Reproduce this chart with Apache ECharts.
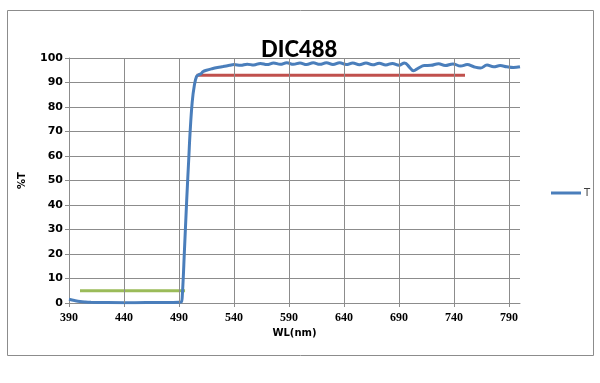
<!DOCTYPE html>
<html>
<head>
<meta charset="utf-8">
<script src="https://cdn.jsdelivr.net/npm/echarts@6/dist/echarts.min.js"></script>
<style>html,body{margin:0;padding:0;background:#fff;}#c{width:600px;height:383px;}</style>
</head>
<body>
<div id="c"></div>
<script>
var titleText = 'DIC488';
var seriesName = 'T';
var xTicks = [390, 440, 490, 540, 590, 640, 690, 740, 790];
var yTicks = [0, 10, 20, 30, 40, 50, 60, 70, 80, 90, 100];
var wl = [390, 395, 400, 405, 410, 420, 440, 460, 480, 490, 492, 493, 495, 497, 499, 500, 502, 504, 506, 508, 510, 512, 515, 520, 525, 530, 536,
  540, 546, 552, 558, 564, 570, 576, 582, 588, 594, 600, 606, 612, 618, 624, 630, 636, 642, 648, 654, 660, 666, 672, 678, 684, 690, 695, 700, 703,
  708, 713, 719, 726, 732, 739, 746, 752, 758, 764, 770, 776, 782, 788, 794, 800];
var tVal = [1.5, 1.0, 0.6, 0.4, 0.3, 0.2, 0.1, 0.2, 0.2, 0.3, 0.4, 3, 22, 42, 60, 69, 82, 89, 92.5, 93.2, 93.6, 94.5, 95.0, 95.6, 96.1, 96.5, 97.0,
  97.3, 97.0, 97.5, 97.1, 97.8, 97.3, 98.0, 97.4, 98.1, 97.4, 98.0, 97.3, 98.1, 97.4, 98.1, 97.3, 98.1, 97.3, 98.0, 97.2, 98.0, 97.2, 97.9, 97.1, 97.8, 97.0, 98.0, 96.0, 94.8,
  96.0, 96.9, 97.0, 97.7, 96.9, 97.6, 96.7, 97.3, 96.4, 95.9, 97.1, 96.4, 96.9, 96.4, 96.1, 96.4];
var blockWL = [400, 495.5];
var blockT = [5, 5];
var passWL = [506, 750];
var passT = [93, 93];

function pairs(xs, ys) { return xs.map(function (x, i) { return [x, ys[i]]; }); }

var chart = echarts.init(document.getElementById('c'), null, {renderer: 'canvas'});
chart.setOption({
  animation: false,
  backgroundColor: '#fff',
  title: {
    text: titleText, left: 261, top: 39, padding: 0,
    textStyle: {fontFamily: 'Lato', fontWeight: 900, fontSize: 22, color: '#000'}
  },
  legend: {
    data: [{name: seriesName, icon: 'rect'}],
    left: 546, top: 183, itemWidth: 30, itemHeight: 3, itemGap: 4,
    textStyle: {fontFamily: 'DejaVu Sans', fontSize: 10, color: '#404040', padding: [0, 0, 0, -2]}
  },
  graphic: [{
    type: 'rect', silent: true,
    shape: {x: 7.5, y: 10.5, width: 586, height: 345},
    style: {fill: 'none', stroke: '#8c8c8c', lineWidth: 1}
  }],
  grid: {left: 69, right: 80, top: 58, bottom: 80, containLabel: false},
  xAxis: {
    type: 'value', min: 390, max: 800,
    name: 'WL(nm)', nameLocation: 'middle', nameGap: 24,
    nameTextStyle: {fontFamily: 'DejaVu Sans', fontWeight: 'bold', fontSize: 10, color: '#000'},
    axisLine: {show: true, lineStyle: {color: '#8c8c8c', width: 1}},
    axisTick: {show: true, length: 4, inside: false, customValues: xTicks, lineStyle: {color: '#8c8c8c'}},
    axisLabel: {customValues: xTicks, margin: 9, fontFamily: 'Liberation Serif', fontWeight: 'bold', fontSize: 12, color: '#000'},
    splitLine: {show: false}
  },
  yAxis: {
    type: 'value', min: 0, max: 100, interval: 10,
    name: '%T', nameLocation: 'middle', nameRotate: 90, nameGap: 42,
    nameTextStyle: {fontFamily: 'DejaVu Sans', fontWeight: 'bold', fontSize: 10, color: '#000'},
    axisLine: {show: true, lineStyle: {color: '#8c8c8c', width: 1}},
    axisTick: {show: true, length: 4, lineStyle: {color: '#8c8c8c'}},
    axisLabel: {margin: 6, fontFamily: 'DejaVu Sans', fontWeight: 'bold', fontSize: 11, color: '#000'},
    splitLine: {show: true, lineStyle: {color: '#8c8c8c', width: 1}}
  },
  series: [
    {
      name: 'grid', type: 'line', data: [], silent: true,
      markLine: {
        silent: true, symbol: 'none', label: {show: false}, animation: false,
        lineStyle: {color: '#8c8c8c', width: 1, type: 'solid'},
        emphasis: {disabled: true},
        data: xTicks.slice(1).map(function (v) { return {xAxis: v}; })
      }
    },
    {
      name: 'block', type: 'line', data: pairs(blockWL, blockT), symbol: 'none', z: 3,
      lineStyle: {color: '#9BBB59', width: 3}, silent: true
    },
    {
      name: 'pass', type: 'line', data: pairs(passWL, passT), symbol: 'none', z: 3,
      lineStyle: {color: '#C0504D', width: 3}, silent: true
    },
    {
      name: seriesName, type: 'line', data: pairs(wl, tVal), symbol: 'none', smooth: 0.4, z: 4,
      itemStyle: {color: '#4A7EBB'},
      lineStyle: {color: '#4A7EBB', width: 3}
    }
  ]
});
</script>
</body>
</html>
